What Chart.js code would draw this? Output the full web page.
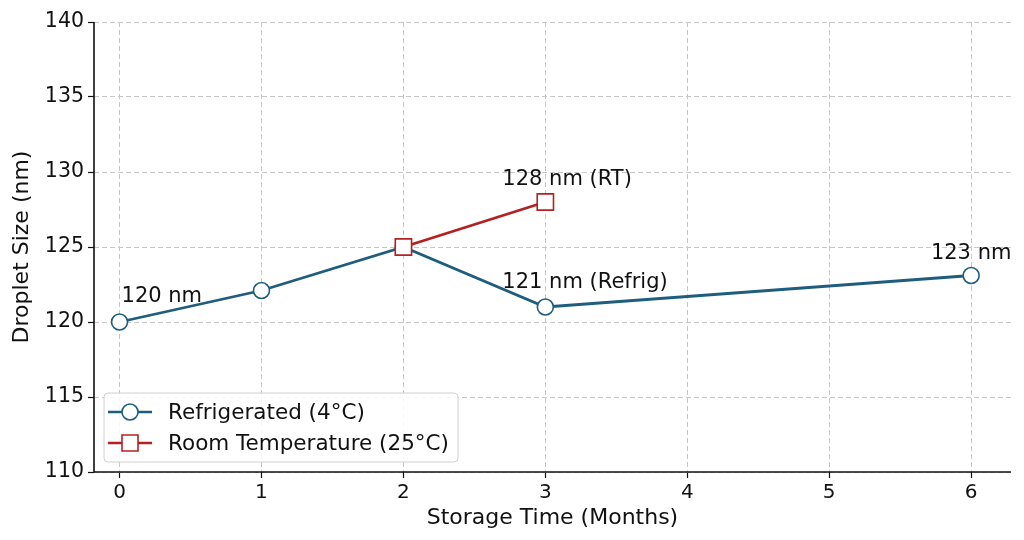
<!DOCTYPE html>
<html>
<head>
<meta charset="utf-8">
<script src="https://cdn.jsdelivr.net/npm/chart.js@4.4.1/dist/chart.umd.min.js"></script>
<style>
  html, body { margin: 0; padding: 0; background: #fff; }
  #wrap { width: 1024px; height: 540px; }
</style>
</head>
<body>
<div id="wrap"><canvas id="myChart" width="1024" height="540"></canvas></div>
<script>
// storage time (months) and droplet size (nm)
const refrigMonths = [0, 1, 2, 3, 6]
const refrigSize = [120, 122.1, 125, 121, 123.1]
const rtMonths = [2, 3]
const rtSize = [125, 128]
const xTicks = [0, 1, 2, 3, 4, 5, 6]
const yTicks = [110, 115, 120, 125, 130, 135, 140]

const seriesNames = ['Refrigerated (4°C)', 'Room Temperature (25°C)']
const blue = '#1e5d7e'
const red = '#b22222'
const font = 'DejaVu Sans, sans-serif'

// text next to some points: [dataset, point index, text, dx, dy, align]
const pointNotes = [
  [0, 0, '120 nm', 2, -25, 'left'],
  [0, 3, '121 nm (Refrig)', -43, -24, 'left'],
  [0, 4, '123 nm', 0, -22, 'center'],
  [1, 1, '128 nm (RT)', -43, -22, 'left']
]

const toPoints = (xs, ys) => xs.map((x, i) => ({x: x, y: ys[i]}))

const notesPlugin = {
  id: 'notes',
  afterDatasetsDraw(chart) {
    const ctx = chart.ctx
    ctx.save()
    ctx.font = `21px ${font}`
    ctx.fillStyle = '#111'
    ctx.textBaseline = 'middle'
    pointNotes.forEach(n => {
      let ds = chart.data.datasets[n[0]]
      let p = ds.data[n[1]]
      let px = chart.scales.x.getPixelForValue(p.x)
      let py = chart.scales.y.getPixelForValue(p.y)
      ctx.textAlign = n[5]
      ctx.fillText(n[2], px + n[3], py + n[4])
    })
    ctx.restore()
  }
}

// solid left and bottom spines (grid lines are dashed)
const spinePlugin = {
  id: 'spines',
  afterDatasetsDraw(chart) {
    const ctx = chart.ctx
    const a = chart.chartArea
    ctx.save()
    ctx.setLineDash([])
    ctx.strokeStyle = '#111'
    ctx.lineWidth = 1.6
    ctx.beginPath()
    ctx.moveTo(a.left, a.top)
    ctx.lineTo(a.left, a.bottom)
    ctx.lineTo(a.right, a.bottom)
    ctx.stroke()
    ctx.restore()
  }
}

// legend box inside the lower left of the plot
const legendPlugin = {
  id: 'boxLegend',
  afterDraw(chart) {
    const ctx = chart.ctx
    const area = chart.chartArea
    let left = area.left + 10
    let top = area.bottom - 79
    let w = 354
    let h = 69
    ctx.save()
    ctx.setLineDash([])
    ctx.fillStyle = 'rgba(255,255,255,0.85)'
    ctx.strokeStyle = '#d0d0d0'
    ctx.lineWidth = 1
    ctx.beginPath()
    ctx.roundRect(left, top, w, h, 4)
    ctx.fill()
    ctx.stroke()

    ctx.font = `21.5px ${font}`
    ctx.textAlign = 'left'
    ctx.textBaseline = 'middle'
    const colors = [blue, red]
    seriesNames.forEach((name, i) => {
      let cy = top + 19 + i * 31
      ctx.strokeStyle = colors[i]
      ctx.lineWidth = 2.5
      ctx.beginPath()
      ctx.moveTo(left + 4, cy)
      ctx.lineTo(left + 48, cy)
      ctx.stroke()
      ctx.fillStyle = '#fff'
      ctx.lineWidth = 1.6
      ctx.beginPath()
      if (i === 0) {
        ctx.arc(left + 26, cy, 8, 0, Math.PI * 2)
      } else {
        ctx.rect(left + 18, cy - 8, 16, 16)
      }
      ctx.fill()
      ctx.stroke()
      ctx.fillStyle = '#111'
      ctx.fillText(name, left + 64, cy + 1)
    })
    ctx.restore()
  }
}

const gridOpts = {
  color: '#c8c8c8',
  lineWidth: 1,
  tickLength: 6,
  tickColor: '#111',
  tickWidth: 1.2,
  tickBorderDash: []
}

const ctx = document.querySelector('#myChart').getContext('2d')
const myLineChart = new Chart(ctx, {
  type: 'line',
  data: {
    datasets: [{
      label: seriesNames[0],
      data: toPoints(refrigMonths, refrigSize),
      borderColor: blue,
      backgroundColor: '#fff',
      borderWidth: 2.8,
      pointStyle: 'circle',
      pointRadius: 8,
      pointBorderWidth: 1.6,
      pointBorderColor: blue,
      pointBackgroundColor: '#fff',
      order: 2
    }, {
      label: seriesNames[1],
      data: toPoints(rtMonths, rtSize),
      borderColor: red,
      backgroundColor: '#fff',
      borderWidth: 2.8,
      pointStyle: 'rect',
      pointRadius: 11.5,
      pointBorderWidth: 1.6,
      pointBorderColor: red,
      pointBackgroundColor: '#fff',
      order: 1
    }]
  },
  options: {
    responsive: false,
    animation: false,
    devicePixelRatio: 1,
    layout: {padding: {top: 22, right: 12, left: 0, bottom: 0}},
    plugins: {
      legend: {display: false},
      tooltip: {enabled: false}
    },
    scales: {
      x: {
        type: 'linear',
        min: -0.18,
        max: 6.28,
        afterBuildTicks: scale => { scale.ticks = xTicks.map(v => ({value: v})) },
        afterFit: scale => { scale.height = 68 },
        border: {display: false, dash: [5, 3]},
        grid: gridOpts,
        ticks: {
          color: '#111',
          font: {family: font, size: 20},
          padding: 3,
          maxRotation: 0
        },
        title: {
          display: true,
          text: 'Storage Time (Months)',
          color: '#111',
          font: {family: font, size: 22},
          padding: {top: 2, bottom: 9}
        }
      },
      y: {
        min: 110,
        max: 140,
        afterBuildTicks: scale => { scale.ticks = yTicks.map(v => ({value: v})) },
        afterFit: scale => { scale.width = 94 },
        border: {display: false, dash: [5, 3]},
        grid: gridOpts,
        ticks: {
          color: '#111',
          font: {family: font, size: 20.5},
          padding: 4
        },
        title: {
          display: true,
          text: 'Droplet Size (nm)',
          color: '#111',
          font: {family: font, size: 22},
          padding: {top: 9, bottom: 4}
        }
      }
    }
  },
  plugins: [spinePlugin, notesPlugin, legendPlugin]
})
</script>
</body>
</html>
